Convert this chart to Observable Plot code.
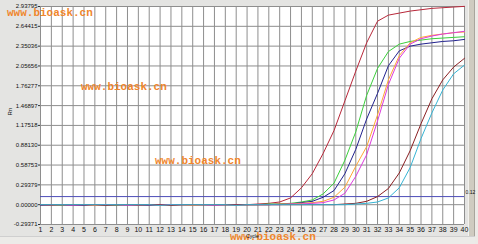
<!DOCTYPE html>
<html><head><meta charset="utf-8">
<script src="https://cdn.jsdelivr.net/npm/d3@7"></script>
<script src="https://cdn.jsdelivr.net/npm/@observablehq/plot@0.6"></script>
<style>
html,body{margin:0;padding:0;background:#e4e4e2;}
#wrap{position:relative;width:478px;height:244px;overflow:hidden;background:#e4e4e2;}
#wrap svg{position:absolute;left:0;top:0;}
.bar{position:absolute;left:468px;top:0;width:5px;height:236px;background:#cfcbc0;border-left:1px solid #f4f2ee;border-right:1px solid #a8a59c;}
.rside{position:absolute;left:475px;top:0;width:3px;height:244px;background:#eceae6;}
.bottom{position:absolute;left:0;top:236px;width:478px;height:8px;background:#ecebe8;border-top:1px solid #cfcfcf;}
.wm{position:absolute;font:bold 11px "Liberation Mono",monospace;color:#f0862c;white-space:nowrap;line-height:9px;}
</style></head><body><div id="wrap"></div>
<script>
const cycles = [1,2,3,4,5,6,7,8,9,10,11,12,13,14,15,16,17,18,19,20,21,22,23,24,25,26,27,28,29,30,31,32,33,34,35,36,37,38,39,40];
const wells = ["A1","A2","A3","A4","A5","A6","A7"];
const wellColors = ["#b8283a","#3ccf3c","#22228e","#ffa636","#dc3cdc","#8a1f22","#36b4d4"];
const well1Rn = [0.00,-0.01,0.00,0.00,-0.01,0.00,0.00,0.00,0.00,-0.01,0.00,0.00,0.00,0.00,0.00,0.00,0.00,0.00,0.00,0.00,0.01,0.02,0.04,0.10,0.25,0.46,0.76,1.10,1.54,1.98,2.40,2.72,2.81,2.84,2.87,2.89,2.91,2.92,2.93,2.94];
const well2Rn = [0.00,0.00,-0.01,0.00,0.00,0.00,0.00,-0.01,0.00,0.00,0.00,0.00,0.00,0.00,0.00,0.00,0.00,0.00,0.00,0.00,0.00,0.01,0.01,0.02,0.04,0.07,0.16,0.32,0.66,1.08,1.62,2.02,2.27,2.38,2.42,2.44,2.46,2.47,2.48,2.49];
const well3Rn = [-0.01,0.00,0.00,-0.01,-0.01,0.00,0.00,0.00,0.00,0.00,-0.01,0.00,0.00,0.00,0.00,0.00,0.00,0.00,0.00,0.00,0.00,0.00,0.01,0.01,0.03,0.05,0.11,0.21,0.46,0.82,1.27,1.65,2.06,2.28,2.35,2.38,2.40,2.42,2.43,2.45];
const well4Rn = [0.00,0.00,0.00,0.00,0.00,-0.01,0.00,0.00,0.00,0.00,0.00,0.00,0.00,0.00,-0.01,0.00,0.00,0.00,0.00,0.00,0.00,0.00,0.01,0.01,0.02,0.03,0.05,0.11,0.26,0.57,0.86,1.33,1.85,2.21,2.40,2.48,2.51,2.53,2.55,2.56];
const well5Rn = [0.00,0.00,0.00,-0.01,0.00,0.00,0.00,0.00,-0.01,0.00,0.00,0.00,0.00,0.00,0.00,0.00,-0.01,0.00,0.00,0.00,0.00,0.00,0.00,0.01,0.01,0.02,0.03,0.07,0.17,0.42,0.74,1.24,1.78,2.17,2.38,2.46,2.50,2.53,2.55,2.57];
const well6Rn = [0.00,0.00,0.00,0.00,0.00,0.00,-0.01,0.00,0.00,0.00,0.00,0.00,-0.01,0.00,0.00,0.00,0.00,0.00,0.00,0.00,0.00,0.00,0.00,0.00,0.00,0.00,0.00,0.00,0.01,0.02,0.05,0.12,0.24,0.47,0.80,1.20,1.57,1.85,2.04,2.17];
const well7Rn = [0.00,0.00,0.00,0.00,0.00,0.00,0.00,0.00,0.00,0.00,0.00,-0.01,0.00,0.00,0.00,0.00,0.00,0.00,-0.01,0.00,0.00,0.00,0.00,0.00,0.00,0.00,0.00,0.00,0.00,0.01,0.02,0.04,0.10,0.25,0.55,0.98,1.36,1.70,1.94,2.07];
const threshold = 0.12;
const yTickValues = [-0.29371,0,0.29379,0.58758,0.88138,1.17518,1.46897,1.76277,2.05656,2.35036,2.64415,2.93795];
const yTickLabels = ["-0.29371","0.00000","0.29379","0.58753","0.88130","1.17518","1.46897","1.76277","2.05656","2.35036","2.64415","2.93795"];
const watermark = "www.bioask.cn";

const series = [well1Rn,well2Rn,well3Rn,well4Rn,well5Rn,well6Rn,well7Rn];
const rows = [];
series.forEach((vals, k) => vals.forEach((v, i) => rows.push({well: wells[k], cycle: cycles[i], rn: v})));
const labelMap = new Map(yTickValues.map((v, i) => [v, yTickLabels[i]]));
const tickFont = "Liberation Sans, Arial, sans-serif";

const chart = Plot.plot({
  width: 478, height: 244,
  marginLeft: 40, marginRight: 14, marginTop: 6, marginBottom: 20,
  style: {background: "transparent", fontFamily: tickFont, color: "#111"},
  x: {domain: [1, 40], axis: null},
  y: {domain: [-0.29371, 2.93795], axis: null},
  color: {domain: wells, range: wellColors},
  marks: [
    Plot.frame({fill: "white", stroke: null}),
    Plot.ruleX(cycles, {stroke: "#8e8e8e", strokeWidth: 1}),
    Plot.ruleY(yTickValues, {stroke: "#8e8e8e", strokeWidth: 1}),
    Plot.ruleY([threshold], {stroke: "#4c4cb8", strokeWidth: 1}),
    Plot.line(rows, {x: "cycle", y: "rn", z: "well", stroke: "well", strokeWidth: 1}),
    Plot.axisY(yTickValues, {tickFormat: d => labelMap.get(d), tickSize: 2, tickPadding: 1, fontSize: 6, label: null, stroke: "#333"}),
    Plot.axisX(cycles, {tickSize: 0, tickPadding: 3, fontSize: 7, label: null}),
    Plot.text(["Rn"], {frameAnchor: "left", dx: -30, rotate: -90, fontSize: 6}),
    Plot.text(["Cycle"], {frameAnchor: "bottom", dy: 13, fontSize: 5}),
    Plot.text([threshold], {x: () => 40, y: d => d, text: d => String(d), dx: 1, dy: -4, textAnchor: "start", fontSize: 5})
  ]
});
const wrap = document.getElementById("wrap");
const add = (cls) => { const d = document.createElement("div"); d.className = cls; wrap.appendChild(d); return d; };
add("bottom"); add("bar"); add("rside");
const addWm = (l, t) => { const d = add("wm"); d.textContent = watermark; d.style.left = l + "px"; d.style.top = t + "px"; };
addWm(230, 233);
wrap.appendChild(chart);
[[7,9],[81,83],[155,157]].forEach(([l,t]) => addWm(l, t));
</script></body></html>
